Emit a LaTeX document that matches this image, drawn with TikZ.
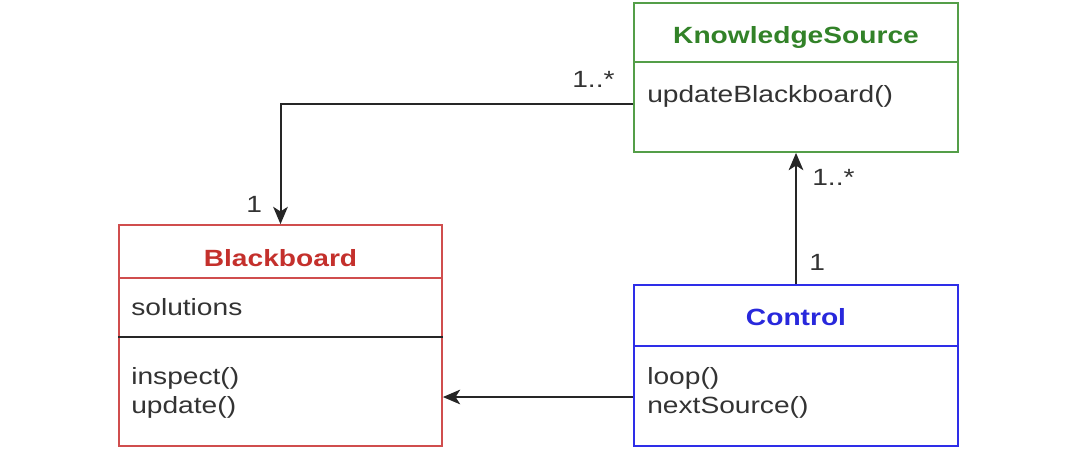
\documentclass[tikz,border=0pt]{standalone}
\usepackage{fontspec}
\setmainfont{Liberation Sans}
\usetikzlibrary{arrows.meta}
\definecolor{ksborder}{RGB}{84,158,72}
\definecolor{kstitle}{RGB}{50,130,40}
\definecolor{bbborder}{RGB}{208,78,78}
\definecolor{bbtitle}{RGB}{196,48,44}
\definecolor{ctborder}{RGB}{46,46,232}
\definecolor{cttitle}{RGB}{40,40,220}
\definecolor{txt}{RGB}{51,51,51}
\newcommand\hs[1]{\scalebox{1.2}[1]{#1}}
\begin{document}
\begin{tikzpicture}[x=0.75pt,y=-0.75pt,
  every node/.style={font=\fontsize{17.6pt}{21pt}\selectfont, text=txt},
  classbox/.style={draw, line width=1.3pt, inner sep=0pt, fill=white},
  title/.style={anchor=base, inner sep=0pt, font=\fontsize{17.6pt}{21pt}\selectfont\bfseries},
  member/.style={anchor=base west, inner sep=0pt},
  mult/.style={anchor=base west, inner sep=0pt},
  divider/.style={line width=1.3pt},
  conn/.style={line width=1.5pt, draw=black!85, -{Stealth[length=13pt,width=11pt,inset=3.5pt]}}
]
\useasboundingbox (0,0) rectangle (1080,451);

% KnowledgeSource
\node[classbox, draw=ksborder, minimum width=243pt, minimum height=111.75pt] (ks) at (796,77.5) {};
\draw[divider, ksborder] (ks.west |- 0,62) -- (ks.east |- 0,62);
\node[title, text=kstitle] (kst) at (796,43) {\hs{KnowledgeSource}};
\node[member] (ksm1) at (647,102) {\hs{updateBlackboard()}};

% Blackboard
\node[classbox, draw=bbborder, minimum width=242.25pt, minimum height=165.75pt] (bb) at (280.5,335.5) {};
\draw[divider, bbborder] (bb.west |- 0,278) -- (bb.east |- 0,278);
\draw[divider, black!85] (bb.west |- 0,337) -- (bb.east |- 0,337);
\node[title, text=bbtitle] (bbt) at (280.5,266) {\hs{Blackboard}};
\node[member] (bba1) at (131,315) {\hs{solutions}};
\node[member] (bbm1) at (131,384) {\hs{inspect()}};
\node[member] (bbm2) at (131,413) {\hs{update()}};

% Control
\node[classbox, draw=ctborder, minimum width=243pt, minimum height=120.75pt] (ct) at (796,365.5) {};
\draw[divider, ctborder] (ct.west |- 0,346) -- (ct.east |- 0,346);
\node[title, text=cttitle] (ctt) at (796,325) {\hs{Control}};
\node[member] (ctm1) at (647,384) {\hs{loop()}};
\node[member] (ctm2) at (647,413) {\hs{nextSource()}};

% connectors
\coordinate (ksout) at (ks.west |- 0,104);
\draw[conn] (ksout) -| (bb.north);
\draw[conn] (ct.north) -- (ks.south);
\coordinate (ctout) at (ct.west |- 0,397);
\draw[conn] (ctout) -- (bb.east |- ctout);

% multiplicities
\node[mult] (l1) at (572,87) {\hs{1..*}};
\node[mult] (l2) at (246,212) {\hs{1}};
\node[mult] (l3) at (812,185) {\hs{1..*}};
\node[mult] (l4) at (809,270) {\hs{1}};
\end{tikzpicture}
\end{document}
